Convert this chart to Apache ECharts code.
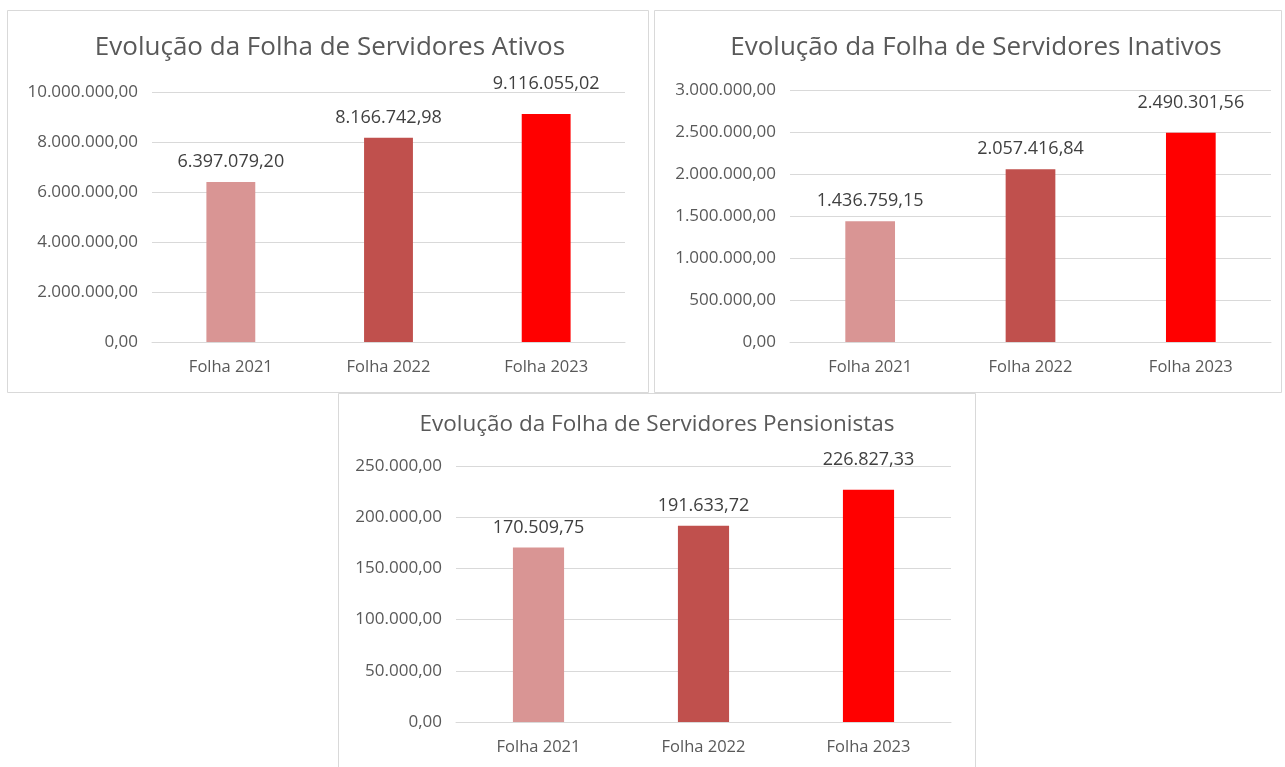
<!DOCTYPE html>
<html>
<head>
<meta charset="utf-8">
<script src="https://cdn.jsdelivr.net/npm/echarts@6/dist/echarts.min.js"></script>
<style>
html,body{margin:0;padding:0;background:#fff;}
#c{width:1285px;height:767px;}
</style>
</head>
<body>
<div id="c"></div>
<script>
const categories = ['Folha 2021', 'Folha 2022', 'Folha 2023'];
const titles = ['Evolução da Folha de Servidores Ativos', 'Evolução da Folha de Servidores Inativos', 'Evolução da Folha de Servidores Pensionistas'];
const ativos = [6397079.20, 8166742.98, 9116055.02];
const inativos = [1436759.15, 2057416.84, 2490301.56];
const pensionistas = [170509.75, 191633.72, 226827.33];
const barColors = ['#D99594', '#C0504D', '#FF0000'];
const axisMax = [10000000, 3000000, 250000];
const axisStep = [2000000, 500000, 50000];

function fmt(v) {
  const parts = Number(v).toFixed(2).split('.');
  const intPart = parts[0].replace(/\B(?=(\d{3})+(?!\d))/g, '.');
  return intPart + ',' + parts[1];
}

const FONT = 'Open Sans';
const TXT = '#595959';
const labelDist = [11, 11, 21];

const panels = [
  {box: [7, 10, 641, 382], grid: {left: 152, width: 473, top: 92, height: 250}, titleX: 330, titleY: 35, titleSize: 26, data: ativos},
  {box: [654, 10, 627, 382], grid: {left: 790, width: 481, top: 90, height: 252}, titleX: 976, titleY: 35, titleSize: 26, data: inativos},
  {box: [338, 393, 637, 380], grid: {left: 456, width: 495, top: 466, height: 256}, titleX: 657, titleY: 413, titleSize: 22.5, data: pensionistas}
];

const option = {
  backgroundColor: '#ffffff',
  animation: false,
  textStyle: {fontFamily: FONT},
  title: panels.map((p, i) => ({
    text: titles[i], left: p.titleX, top: p.titleY, textAlign: 'center', padding: 0,
    textStyle: {fontFamily: FONT, fontSize: p.titleSize, fontWeight: 'normal', color: TXT}
  })),
  graphic: panels.map(p => ({
    type: 'rect', silent: true, z: -10,
    shape: {x: p.box[0] + 0.5, y: p.box[1] + 0.5, width: p.box[2], height: p.box[3]},
    style: {fill: '#fff', stroke: '#d9d9d9', lineWidth: 1}
  })),
  grid: panels.map(p => ({left: p.grid.left, width: p.grid.width, top: p.grid.top, height: p.grid.height, containLabel: false})),
  xAxis: panels.map((p, i) => ({
    type: 'category', gridIndex: i, data: categories,
    axisLine: {show: true, lineStyle: {color: '#d9d9d9', width: 1}},
    axisTick: {show: false},
    axisLabel: {color: TXT, fontFamily: FONT, fontSize: 16.5, margin: 17}
  })),
  yAxis: panels.map((p, i) => ({
    type: 'value', gridIndex: i, min: 0, max: axisMax[i], interval: axisStep[i],
    axisLine: {show: false}, axisTick: {show: false},
    splitLine: {lineStyle: {color: '#d9d9d9', width: 1}},
    axisLabel: {color: TXT, fontFamily: FONT, fontSize: 17, margin: 14, formatter: v => fmt(v)}
  })),
  series: panels.map((p, i) => ({
    type: 'bar', xAxisIndex: i, yAxisIndex: i, barWidth: '31%',
    data: p.data.map((v, k) => ({value: v, itemStyle: {color: barColors[k]}, label: {distance: labelDist[k]}})),
    label: {show: true, position: 'top', distance: 11, color: '#404040', fontFamily: FONT, fontSize: 18, formatter: d => fmt(d.value)}
  }))
};

const chart = echarts.init(document.getElementById('c'), null, {renderer: 'canvas'});
chart.setOption(option);
</script>
</body>
</html>
